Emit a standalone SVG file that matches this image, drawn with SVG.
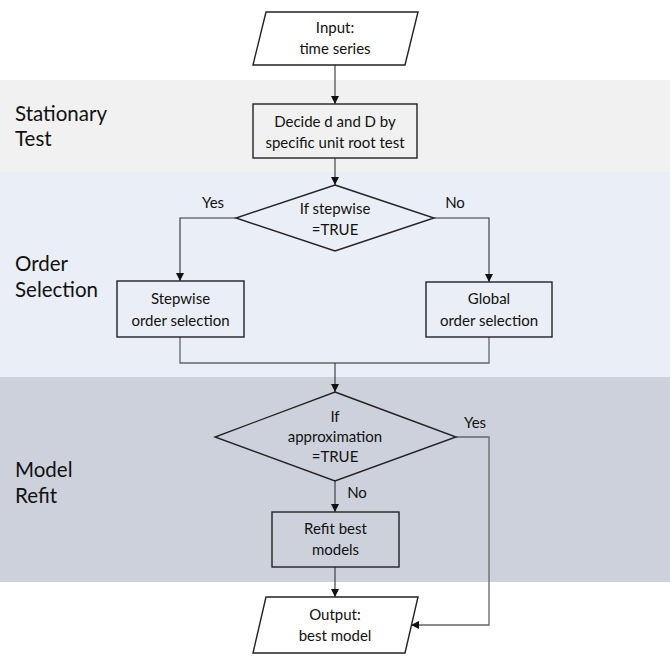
<svg xmlns="http://www.w3.org/2000/svg" width="670" height="664" viewBox="0 0 670 664">
<defs>
<marker id="arr" viewBox="0 0 10 10" refX="10" refY="5" markerWidth="8" markerHeight="8" markerUnits="userSpaceOnUse" orient="auto">
<path d="M0,0 L10,5 L0,10 Z" fill="#111"/>
</marker>
<style>
.lane{font-family:Lato,"Liberation Sans",sans-serif;font-size:20.5px;fill:#111}
.t{font-family:Lato,"Liberation Sans",sans-serif;font-size:15px;fill:#111;text-anchor:middle}
.shape{fill:none;stroke:#222;stroke-width:1.4}
.io{fill:#fff;stroke:#222;stroke-width:1.4}
.c{fill:none;stroke:#333;stroke-width:1.1}
.cg{fill:none;stroke:#666;stroke-width:1.3}
</style>
</defs>
<rect width="670" height="664" fill="#fff"/>
<g id="lanes">
<rect x="0" y="80" width="670" height="92" fill="#f1f1f1"/>
<rect x="0" y="172" width="670" height="205" fill="#eaeef7"/>
<rect x="0" y="377" width="670" height="205" fill="#cdd1dc"/>
<text class="lane" x="15" y="121">Stationary</text>
<text class="lane" x="15" y="146">Test</text>
<text class="lane" x="15" y="271">Order</text>
<text class="lane" x="15" y="297">Selection</text>
<text class="lane" x="15" y="477">Model</text>
<text class="lane" x="15" y="503">Refit</text>
</g>
<g id="connectors">
<path class="c" d="M335,65 V104" marker-end="url(#arr)"/>
<path class="c" d="M335,158 V185" marker-end="url(#arr)"/>
<path class="c" d="M236,218 H180 V281" marker-end="url(#arr)"/>
<path class="c" d="M434,218 H489 V282" marker-end="url(#arr)"/>
<path class="cg" d="M180,337 V363 H489 V337"/>
<path class="c" d="M335,363 V392" marker-end="url(#arr)"/>
<path class="c" d="M335,481 V512" marker-end="url(#arr)"/>
<path class="cg" d="M456,437 H489 V625 H411" marker-end="url(#arr)"/>
<path class="c" d="M335,567 V597" marker-end="url(#arr)"/>
<text class="t" x="213" y="208">Yes</text>
<text class="t" x="455" y="208">No</text>
<text class="t" x="475" y="428">Yes</text>
<text class="t" x="357" y="498">No</text>
</g>
<g id="input">
<polygon class="io" points="266,12 418,12 405,65 253,65"/>
<text class="t" x="335" y="33">Input:</text>
<text class="t" x="335" y="54">time series</text>
</g>
<g id="decide">
<rect class="shape" x="253" y="104" width="164" height="54"/>
<text class="t" x="335" y="127">Decide d and D by</text>
<text class="t" x="335" y="148">specific unit root test</text>
</g>
<g id="stepwise-decision">
<polygon class="shape" points="335,185 434,218 335,251 236,218"/>
<text class="t" x="335" y="214">If stepwise</text>
<text class="t" x="335" y="235">=TRUE</text>
</g>
<g id="stepwise">
<rect class="shape" x="117" y="281" width="127" height="56"/>
<text class="t" x="180.5" y="304">Stepwise</text>
<text class="t" x="180.5" y="326">order selection</text>
</g>
<g id="global">
<rect class="shape" x="426" y="282" width="126" height="55"/>
<text class="t" x="489" y="304">Global</text>
<text class="t" x="489" y="326">order selection</text>
</g>
<g id="approx-decision">
<polygon class="shape" points="335,392 456,437 335,481 215,437"/>
<text class="t" x="335" y="422">If</text>
<text class="t" x="335" y="442">approximation</text>
<text class="t" x="335" y="462">=TRUE</text>
</g>
<g id="refit">
<rect class="shape" x="272" y="512" width="127" height="55"/>
<text class="t" x="335.5" y="534">Refit best</text>
<text class="t" x="335.5" y="555">models</text>
</g>
<g id="output">
<polygon class="io" points="266,597 418,597 405,653 253,653"/>
<text class="t" x="335" y="620">Output:</text>
<text class="t" x="335" y="641">best model</text>
</g>
</svg>
